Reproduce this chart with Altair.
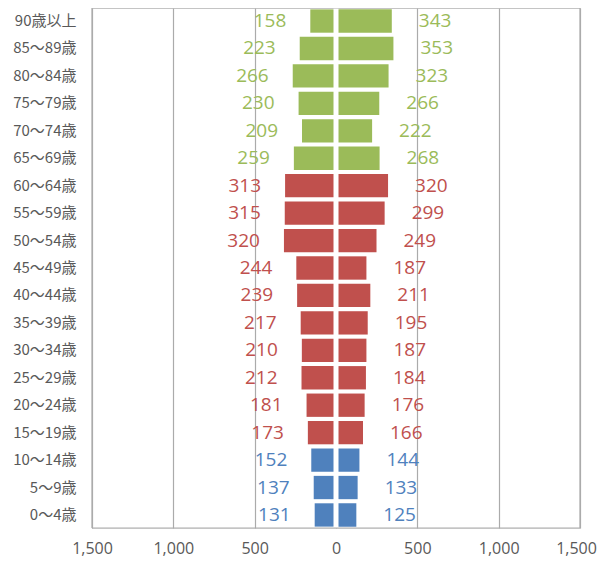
import altair as alt
import pandas as pd

ages = ["90歳以上", "85～89歳", "80～84歳", "75～79歳", "70～74歳", "65～69歳",
        "60～64歳", "55～59歳", "50～54歳", "45～49歳", "40～44歳", "35～39歳",
        "30～34歳", "25～29歳", "20～24歳", "15～19歳", "10～14歳", "5～9歳", "0～4歳"]
left_vals = [158, 223, 266, 230, 209, 259, 313, 315, 320, 244, 239, 217, 210, 212, 181, 173, 152, 137, 131]
right_vals = [343, 353, 323, 266, 222, 268, 320, 299, 249, 187, 211, 195, 187, 184, 176, 166, 144, 133, 125]
groups = ["65+"] * 6 + ["15-64"] * 10 + ["0-14"] * 3
group_names = ["0-14", "15-64", "65+"]
group_colors = ["#4F81BD", "#C0504D", "#9BBB59"]
x_ticks = [-1500, -1000, -500, 0, 500, 1000, 1500]

rows = []
for a, l, r, g in zip(ages, left_vals, right_vals, groups):
    rows.append({"age": a, "side": "L", "value": l, "signed": -l, "group": g})
    rows.append({"age": a, "side": "R", "value": r, "signed": r, "group": g})
df = pd.DataFrame(rows)

xscale = alt.Scale(domain=[-1500, 1500], nice=False)
y_enc = alt.Y("age:N", sort=ages, title=None,
              scale=alt.Scale(paddingInner=0.15, paddingOuter=0.05),
              axis=alt.Axis(ticks=False, domain=False, labelPadding=16,
                            labelFont="Noto Sans CJK JP", labelFontSize=15,
                            labelColor="#595959"))
x_enc = alt.X("signed:Q", title=None, scale=xscale,
              axis=alt.Axis(values=x_ticks, ticks=False, domain=False,
                            labelExpr="format(abs(datum.value), ',')",
                            labelFlush=False, labelBound=False,
                            labelOffset={"condition": {"test": "datum.value == 1500", "value": -4}, "value": 0},
                            labelFont="Open Sans", labelFontSize=16,
                            labelColor="#595959", labelPadding=12,
                            grid=True, gridColor="#ABABAB", gridWidth=1.2))
color_enc = alt.Color("group:N", scale=alt.Scale(domain=group_names, range=group_colors), legend=None)

base = alt.Chart(df)
bars = base.mark_bar().encode(y=y_enc, x=x_enc, color=color_enc)

gap = alt.Chart(pd.DataFrame({"x": [0]})).mark_rule(color="white", strokeWidth=5).encode(
    x=alt.X("x:Q", scale=xscale))

frame_v = alt.Chart(pd.DataFrame({"x": [-1500, 1500]})).mark_rule(
    color="#ABABAB", strokeWidth=1.2).encode(x=alt.X("x:Q", scale=xscale))
frame_h = alt.Chart(pd.DataFrame({"y": [0, 520]})).mark_rule(
    color="#ABABAB", strokeWidth=1.2).encode(
    y=alt.Y("y:Q", scale=None), x=alt.value(0), x2=alt.value(488))

txt_l = base.transform_filter(alt.datum.side == "L").mark_text(
    align="right", baseline="middle", dx=-24, font="Open Sans", fontSize=19).encode(
    y=alt.Y("age:N", sort=ages), x="signed:Q", text="value:Q", color=color_enc)
txt_r = base.transform_filter(alt.datum.side == "R").mark_text(
    align="left", baseline="middle", dx=27, font="Open Sans", fontSize=19).encode(
    y=alt.Y("age:N", sort=ages), x="signed:Q", text="value:Q", color=color_enc)

chart = alt.layer(bars, gap, frame_v, frame_h, txt_l, txt_r).properties(
    width=488, height=520,
    autosize=alt.AutoSizeParams(type="none"),
    padding={"left": 84, "top": 0, "right": 17, "bottom": 31},
).configure_view(stroke="#ABABAB", strokeWidth=1.2).configure(background="white")

chart.save("out.html", embed_options={"renderer": "svg", "actions": False})
